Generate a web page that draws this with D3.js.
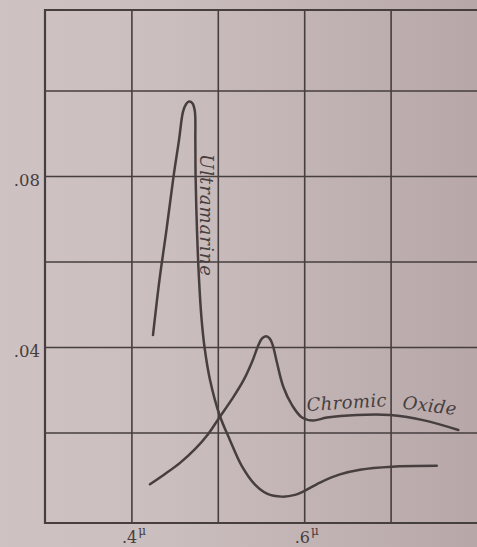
<!DOCTYPE html>
<html>
<head>
<meta charset="utf-8">
<script src="https://cdn.jsdelivr.net/npm/d3@7"></script>
<style>
  body { margin: 0; background: #c6b8b9; }
  svg { display: block; }
</style>
</head>
<body>
<div id="chart"></div>
<script>
const WIDTH = 477;
const HEIGHT = 547;
// the plate frame (no right edge, the scan cuts it off)
const frame = { top: 10, right: 477, bottom: 523, left: 45 };
const INK = '#463e3f';

// grid values and the few labels printed on the plate
const xGridValues = [0.4, 0.5, 0.6, 0.7];
const xLabels = { 0.4: '.4', 0.6: '.6' };
const yGridValues = [0.02, 0.04, 0.06, 0.08, 0.1];
const yLabels = { 0.04: '.04', 0.08: '.08' };

// Ultramarine, wavelength (micron) / value
const ultraX = [0.425, 0.4325, 0.4406, 0.4487, 0.4551, 0.4597, 0.4632, 0.4667, 0.4707, 0.4734,
  0.474, 0.4743, 0.4759, 0.4782, 0.4811, 0.4846, 0.491, 0.502, 0.5141, 0.5277,
  0.5431, 0.5569, 0.574, 0.5894, 0.5998, 0.6183, 0.6414, 0.6646, 0.7016, 0.7534];
const ultraY = [0.0428, 0.0557, 0.0674, 0.0798, 0.0884, 0.095, 0.0968, 0.0974, 0.097, 0.0952,
  0.0884, 0.08, 0.0674, 0.0561, 0.0468, 0.04, 0.0323, 0.0241, 0.0182, 0.0122,
  0.0078, 0.0057, 0.005, 0.0054, 0.0063, 0.0083, 0.0102, 0.0113, 0.012, 0.0122];

// Chromic Oxide
const chromeX = [0.4215, 0.4389, 0.4563, 0.4736, 0.4887, 0.5025, 0.5164, 0.5292, 0.5396, 0.5465,
  0.5512, 0.5558, 0.5604, 0.5639, 0.5685, 0.5758, 0.5859, 0.5975, 0.6102, 0.6264,
  0.6611, 0.6993, 0.7375, 0.7784];
const chromeY = [0.0079, 0.0103, 0.0129, 0.0161, 0.0196, 0.0237, 0.0278, 0.032, 0.0365, 0.0402,
  0.042, 0.0425, 0.0419, 0.0402, 0.0363, 0.0307, 0.0264, 0.0235, 0.0228, 0.0235,
  0.0241, 0.0241, 0.0229, 0.0206];

const svg = d3
  .select('#chart')
  .append('svg')
  .attr('width', WIDTH)
  .attr('height', HEIGHT);

// paper tone, a bit darker to the right
const grad = svg
  .append('defs')
  .append('linearGradient')
  .attr('id', 'paper')
  .attr('x1', '0%')
  .attr('x2', '100%');
grad.append('stop').attr('offset', '0%').attr('stop-color', '#cec2c2');
grad.append('stop').attr('offset', '35%').attr('stop-color', '#cbbebe');
grad.append('stop').attr('offset', '100%').attr('stop-color', '#b7a7a8');
svg.append('rect').attr('width', WIDTH).attr('height', HEIGHT).attr('fill', 'url(#paper)');

const xScale = d3.scaleLinear().domain([0.3, 0.8]).range([frame.left, frame.right]);
const yScale = d3.scaleLinear().domain([0, 0.12]).range([518, 5]);

// vertical grid + x labels
const xAxis = d3
  .axisBottom(xScale)
  .tickValues(xGridValues)
  .tickSize(-(frame.bottom - frame.top))
  .tickPadding(20)
  .tickFormat(d => xLabels[d] || '');
const gx = svg
  .append('g')
  .attr('transform', `translate(0,${frame.bottom})`)
  .call(xAxis);
gx.select('.domain').remove();
gx.selectAll('.tick line').attr('stroke', INK).attr('stroke-width', 1.6);
gx.selectAll('.tick text')
  .attr('dy', 0)
  .attr('x', -10)
  .attr('text-anchor', 'start')
  .style('font-family', 'DejaVu Serif')
  .style('font-size', '16px')
  .attr('fill', INK)
  .filter(d => xLabels[d])
  .append('tspan')
  .attr('dy', -8)
  .attr('dx', 1)
  .style('font-size', '12px')
  .text('\u03bc');

// horizontal grid + y labels
const yAxis = d3
  .axisLeft(yScale)
  .tickValues(yGridValues)
  .tickSize(-(frame.right - frame.left))
  .tickPadding(5)
  .tickFormat(d => yLabels[d] || '');
const gy = svg
  .append('g')
  .attr('transform', `translate(${frame.left},0)`)
  .call(yAxis);
gy.select('.domain').remove();
gy.selectAll('.tick line').attr('stroke', INK).attr('stroke-width', 1.6);
gy.selectAll('.tick text')
  .attr('dy', '0.6em')
  .style('font-family', 'DejaVu Serif')
  .style('font-size', '16.5px')
  .attr('fill', INK);

// frame: top, left, bottom
svg
  .append('path')
  .attr('d', `M${frame.right},${frame.top}H${frame.left}V${frame.bottom}H${frame.right}`)
  .attr('fill', 'none')
  .attr('stroke', INK)
  .attr('stroke-width', 2.2);

// curves
const line = d3
  .line()
  .x(d => xScale(d[0]))
  .y(d => yScale(d[1]))
  .curve(d3.curveCatmullRom.alpha(0.5));

svg
  .selectAll('.curve')
  .data([d3.zip(ultraX, ultraY), d3.zip(chromeX, chromeY)])
  .enter()
  .append('path')
  .attr('class', 'curve')
  .attr('d', line)
  .attr('fill', 'none')
  .attr('stroke', INK)
  .attr('stroke-width', 2.5)
  .attr('stroke-linecap', 'round')
  .attr('stroke-linejoin', 'round');

// curve names, written on the plate
const labelStyle = sel =>
  sel
    .style('font-family', 'DejaVu Serif')
    .style('font-style', 'italic')
    .style('font-size', '18px')
    .attr('fill', INK)
    .attr('lengthAdjust', 'spacing');

svg
  .append('text')
  .attr('transform', 'translate(200,154) rotate(90)')
  .attr('textLength', 122)
  .call(labelStyle)
  .text('Ultramarine');
svg
  .append('text')
  .attr('transform', 'translate(307,411) rotate(-3.5)')
  .attr('textLength', 80)
  .call(labelStyle)
  .text('Chromic');
svg
  .append('text')
  .attr('transform', 'translate(402,408.5) rotate(7)')
  .attr('textLength', 54)
  .call(labelStyle)
  .text('Oxide');
</script>
</body>
</html>
